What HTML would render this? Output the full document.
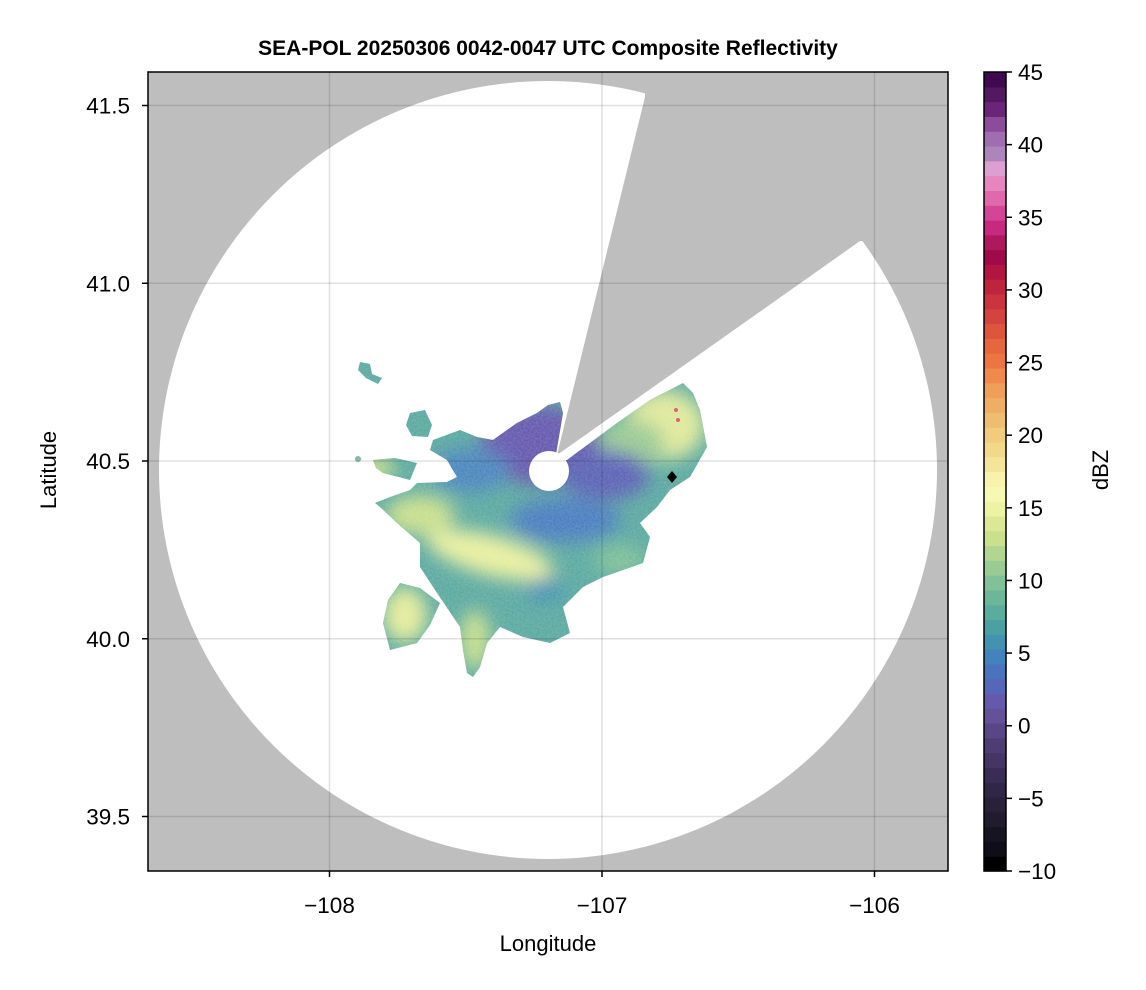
<!DOCTYPE html>
<html><head><meta charset="utf-8"><style>
body{margin:0;background:#fff;}
svg{display:block;font-family:"Liberation Sans",Arial,sans-serif;}
</style></head><body>
<svg id="chart" width="1146" height="990" xmlns="http://www.w3.org/2000/svg">
<defs>
<clipPath id="plotclip"><rect x="148" y="72" width="800" height="799"/></clipPath>
<clipPath id="blobclip">
<path d="M375,503 L390,497 410,490 417,483 447,482 457,477 447,460 430,450 433,440 460,430 477,437 493,440 507,430 517,423 537,413 548,405 560,402 563,413 555,460 567,460 617,423 650,400 683,383 693,393 700,410 707,447 690,477 670,490 657,507 640,523 650,537 643,563 603,577 583,587 563,607 570,633 550,643 523,637 500,627 487,643 480,667 473,677 467,673 463,650 460,627 437,593 420,567 420,543 397,523 380,507Z"/>
<path d="M400,583 L420,588 440,603 430,625 417,643 390,650 383,623 388,600Z"/>
<path d="M410,413 L425,410 432,425 428,437 412,436 406,425Z"/>
<path d="M373,460 L395,458 417,463 410,480 383,473 376,468Z"/>
<path d="M360,362 L370,364 372,374 382,378 378,384 366,378 358,370Z"/>
<circle cx="358" cy="459" r="3"/>
</clipPath>
<filter id="blur"><feGaussianBlur stdDeviation="9"/></filter>
<filter id="noise"><feTurbulence type="fractalNoise" baseFrequency="0.5" numOctaves="2" result="n"/><feColorMatrix type="matrix" values="0 0 0 0 1 0 0 0 0 1 0 0 0 0 1 0 0 0 0.5 -0.1"/></filter>
</defs>
<text x="548" y="55" text-anchor="middle" font-size="21" font-weight="bold">SEA-POL 20250306 0042-0047 UTC Composite Reflectivity</text>
<g clip-path="url(#plotclip)">
<rect x="148" y="72" width="800" height="799" fill="#bebebe"/>
<circle cx="548" cy="470" r="389" fill="#fff"/>
<polygon points="557,455 645,97 645,60 960,60 960,241 860,241" fill="#bebebe"/>
<g clip-path="url(#blobclip)">
<rect x="340" y="350" width="380" height="340" fill="#5aa9a0"/>
<g filter="url(#blur)">
<ellipse cx="665" cy="425" rx="40" ry="35" fill="#dfe99a"/>
<ellipse cx="630" cy="445" rx="35" ry="25" fill="#99cb93"/>
<ellipse cx="540" cy="445" rx="60" ry="40" fill="#6559ad"/>
<ellipse cx="605" cy="475" rx="45" ry="25" fill="#5a62b5"/>
<ellipse cx="470" cy="470" rx="40" ry="22" fill="#4a86be"/>
<ellipse cx="490" cy="555" rx="65" ry="20" fill="#e8ef9e" transform="rotate(15 490 555)"/>
<ellipse cx="420" cy="515" rx="35" ry="20" fill="#c8df8c"/>
<ellipse cx="405" cy="615" rx="22" ry="28" fill="#e4ec9a"/>
<ellipse cx="565" cy="520" rx="55" ry="22" fill="#4a7dbf"/>
<ellipse cx="545" cy="590" rx="20" ry="12" fill="#4290b5"/>
<ellipse cx="475" cy="640" rx="15" ry="30" fill="#c7df8c"/>
<ellipse cx="375" cy="468" rx="20" ry="12" fill="#c9df8c"/>
<ellipse cx="620" cy="560" rx="25" ry="15" fill="#80c197"/>
</g>
<rect x="340" y="350" width="380" height="340" filter="url(#noise)" opacity="0.5"/>
<circle cx="676" cy="410" r="2" fill="#e0607a"/>
<circle cx="678" cy="420" r="2" fill="#e0607a"/>
</g>
<circle cx="549" cy="471" r="20" fill="#fff"/>
<g id="grid" stroke="#000" stroke-opacity="0.12" stroke-width="1.5"></g>
<polygon points="672,471 677,477 672,483 667,477" fill="#000"/>
</g>
<rect x="148" y="72" width="800" height="799" fill="none" stroke="#000" stroke-width="1.5"/>
<g id="axes" font-size="22.5"></g>
<text x="548" y="951" text-anchor="middle" font-size="22">Longitude</text>
<text transform="translate(56,470) rotate(-90)" text-anchor="middle" font-size="22">Latitude</text>
<g id="cbar"></g>
<text transform="translate(1108,470) rotate(-90)" text-anchor="middle" font-size="22">dBZ</text>
</svg>
<script>
const xTicks=[-108,-107,-106];
const xTickLabels=["−108","−107","−106"];
const yTicks=[39.5,40.0,40.5,41.0,41.5];
const yTickLabels=["39.5","40.0","40.5","41.0","41.5"];
const cbTicks=[-10,-5,0,5,10,15,20,25,30,35,40,45];
const cbTickLabels=["−10","−5","0","5","10","15","20","25","30","35","40","45"];
const cbColors=["#000000","#0f0d17","#171422","#201b2d","#282139","#302646","#3a2d55","#443564","#4e3d74","#594686","#635199","#6559ad","#5667ba","#4a72bd","#4282bd","#4292b0","#4aa0a3","#5aac9c","#6cb79a","#80c197","#99cb93","#b2d58f","#cbe08c","#dde896","#ecf3a4","#f7f9b3","#f8f2ad","#f5e59a","#f2d98a","#f0cc7c","#efbd6f","#efae64","#f09f59","#ef8a4c","#ec7541","#e6663d","#df553c","#d5433e","#cb343f","#c0243d","#b2153f","#a00a48","#b0185e","#c8297e","#d54596","#e068ac","#e686bf","#dd9fd0","#ad85bd","#9f6db0","#8c4c9b","#6a2478","#521860","#3f0a4f"];
const NS="http://www.w3.org/2000/svg";
const X=v=>602+(v+107)*272.5;
const Y=v=>461-(v-40.5)*355.5;
const CB=v=>871-(v+10)/55*799;
function mk(tag,attrs,parent){const e=document.createElementNS(NS,tag);for(const k in attrs)e.setAttribute(k,attrs[k]);parent.appendChild(e);return e;}
const grid=document.getElementById('grid'),axes=document.getElementById('axes'),cbar=document.getElementById('cbar');
xTicks.forEach((v,i)=>{
 const l=mk('line',{x1:X(v),x2:X(v),y1:72,y2:871},grid);
 
 
 const t=mk('line',{x1:X(v),x2:X(v),y1:871,y2:877,stroke:'#000','stroke-width':1.5},axes);
 
 
 const tx=mk('text',{x:X(v),y:913,'text-anchor':'middle'},axes);tx.textContent=xTickLabels[i];
 
 
});
yTicks.forEach((v,i)=>{
 const l=mk('line',{x1:148,x2:948,y1:Y(v),y2:Y(v)},grid);
 
 
 const t=mk('line',{x1:142,x2:148,y1:Y(v),y2:Y(v),stroke:'#000','stroke-width':1.5},axes);
 
 
 const tx=mk('text',{x:130,y:Y(v)+8,'text-anchor':'end'},axes);tx.textContent=yTickLabels[i];
 
 
});
const n=cbColors.length,h=799/n;
cbColors.forEach((c,i)=>{
 const r=mk('rect',{x:984,y:871-(i+1)*h,width:22,height:h+0.6,fill:c},cbar);
 
 
});
const fr=mk('rect',{x:984,y:72,width:22,height:799,fill:'none',stroke:'#000','stroke-width':1.5},cbar);


cbTicks.forEach((v,i)=>{
 const t=mk('line',{x1:1006,x2:1012,y1:CB(v),y2:CB(v),stroke:'#000','stroke-width':1.5},cbar);
 
 
 const tx=mk('text',{x:1018,y:CB(v)+8,'font-size':22.5},cbar);tx.textContent=cbTickLabels[i];
 
 
});
</script>
</body></html>
